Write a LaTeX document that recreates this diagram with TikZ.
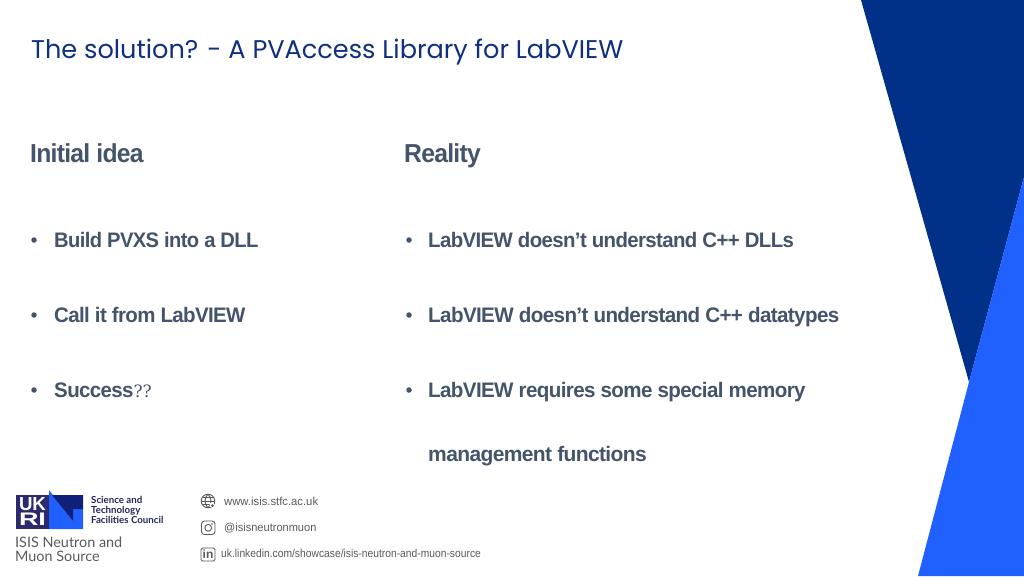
\documentclass[tikz,border=0pt]{standalone}
\usepackage{graphicx}
\usepackage{fontspec}
\setmainfont{Open Sans}
\newfontfamily\titlef{Poppins}
\newfontfamily\bodyf[LetterSpace=-3]{Liberation Sans}
\newfontfamily\smallf{Lato}
\newfontfamily\footf{Liberation Sans}
\newfontfamily\symf{DejaVu Serif}
\newcommand{\fitx}[2]{\scalebox{#1}[1]{#2}}
\definecolor{navy}{HTML}{003088}
\definecolor{brightblue}{HTML}{2060FF}
\definecolor{logonavy}{HTML}{2B2A6E}
\definecolor{logoblue}{HTML}{10207A}
\definecolor{titleblue}{HTML}{0F2F80}
\definecolor{slate}{HTML}{44546A}
\definecolor{greytext}{HTML}{5A5A5A}
\tikzset{
  x=1pt,y=-1pt,
  head/.style={anchor=base west,inner sep=0pt,text=slate,font=\bodyf\bfseries\fontsize{26}{30}\selectfont},
  item/.style={anchor=base west,inner sep=0pt,text=slate,font=\bodyf\bfseries\fontsize{21}{25}\selectfont},
  bul/.style={circle,fill=slate,inner sep=0pt,minimum size=5.5pt},
  foot/.style={anchor=base west,inner sep=0pt,text=greytext,font=\footf\fontsize{11.5}{13}\selectfont},
  ico/.style={draw=greytext,line width=0.9pt},
  ukrl/.style={anchor=center,inner sep=0pt,text=white,font=\footf\bfseries},
}
\begin{document}
\begin{tikzpicture}
\useasboundingbox (0,0) rectangle (1024,576);
\fill[white] (0,0) rectangle (1024,576);
\fill[navy] (861,0) -- (1024,0) -- (1024,177) -- (969,382) -- cycle;
\fill[brightblue] (1024,177) -- (1024,576) -- (918,576) -- (969,382) -- cycle;
\node[anchor=base west,inner sep=0pt,text=titleblue,font=\titlef\fontsize{25.6}{30}\selectfont] (title) at (31,58) {The solution? - A PVAccess Library for LabVIEW};
\node[head] (h1) at (30,162) {\fitx{0.95}{Initial idea}};
\node[head] (h2) at (404,162) {\fitx{0.95}{Reality}};
\node[bul] (b1) at (34,240) {};
\node[item] (t1) at (54,247) {\fitx{0.96}{Build PVXS into a DLL}};
\node[bul] (b2) at (34,315) {};
\node[item] (t2) at (54,322) {\fitx{0.974}{Call it from LabVIEW}};
\node[bul] (b3) at (34,390) {};
\node[item] (t3) at (54,397) {\fitx{0.975}{Success}{\symf\mdseries\fontsize{17}{17}\selectfont ??}};
\node[bul] (b4) at (409,240) {};
\node[item] (t4) at (428,247) {\fitx{0.971}{LabVIEW doesn’t understand C++ DLLs}};
\node[bul] (b5) at (409,315) {};
\node[item] (t5) at (428,322) {\fitx{0.981}{LabVIEW doesn’t understand C++ datatypes}};
\node[bul] (b6) at (409,390) {};
\node[item] (t6) at (428,397) {\fitx{0.979}{LabVIEW requires some special memory}};
\node[item] (t7) at (428,461) {management functions};
% logo
\fill[logonavy] (16,495) rectangle (49,529);
\node[ukrl] (uk) at (32.5,504.5) {\resizebox{27pt}{13pt}{UK}};
\node[ukrl] (ri) at (32.5,519.5) {\resizebox{27pt}{12.5pt}{RI}};
\fill[brightblue] (49,490) -- (49,529) -- (83,529) -- (83,509) -- (73,509) -- (73,521) -- cycle;
\fill[logoblue] (52,495) -- (83,495) -- (83,509) -- (73,509) -- (73,521) -- cycle;
\node[anchor=north west,inner sep=0pt,text=logonavy!85!black,align=left,font=\smallf\bfseries\fontsize{9.7}{10}\selectfont] (stfc) at (91,496.5) {Science and\\Technology\\Facilities Council};
\node[anchor=base west,inner sep=0pt,text=greytext,font=\smallf\fontsize{14.4}{15}\selectfont] (isis1) at (15,547) {ISIS Neutron and};
\node[anchor=base west,inner sep=0pt,text=greytext,font=\smallf\fontsize{14.4}{15}\selectfont] (isis2) at (15,561) {Muon Source};
% footer
\node[foot] (f1) at (224,505) {\fitx{0.98}{www.isis.stfc.ac.uk}};
\node[foot] (f2) at (224,531) {\fitx{0.96}{@isisneutronmuon}};
\node[foot] (f3) at (221,557) {\fitx{0.895}{uk.linkedin.com/showcase/isis-neutron-and-muon-source}};
\draw[ico] (208,501) circle (6.8);
\draw[ico] (208,494.2) .. controls (204,498) and (204,504) .. (208,507.8);
\draw[ico] (208,494.2) .. controls (212,498) and (212,504) .. (208,507.8);
\draw[ico] (201.2,501) -- (214.8,501);
\draw[ico] (202.5,497.5) -- (213.5,497.5);
\draw[ico] (202.5,504.5) -- (213.5,504.5);
\fill[white] (212,505) circle (2.5);
\fill[greytext] (212.5,505.5) circle (1.5);
\draw[ico,rounded corners=3pt] (201.5,521) rectangle (215,534.5);
\draw[ico] (208.2,527.8) circle (3.4);
\fill[greytext] (212,524) circle (0.8);
\draw[ico,rounded corners=1.5pt] (201,548) rectangle (215,561);
\node[anchor=center,inner sep=0pt,text=greytext,font=\footf\bfseries\fontsize{12}{12}\selectfont] (lin) at (208,554.5) {in};
\end{tikzpicture}
\end{document}
